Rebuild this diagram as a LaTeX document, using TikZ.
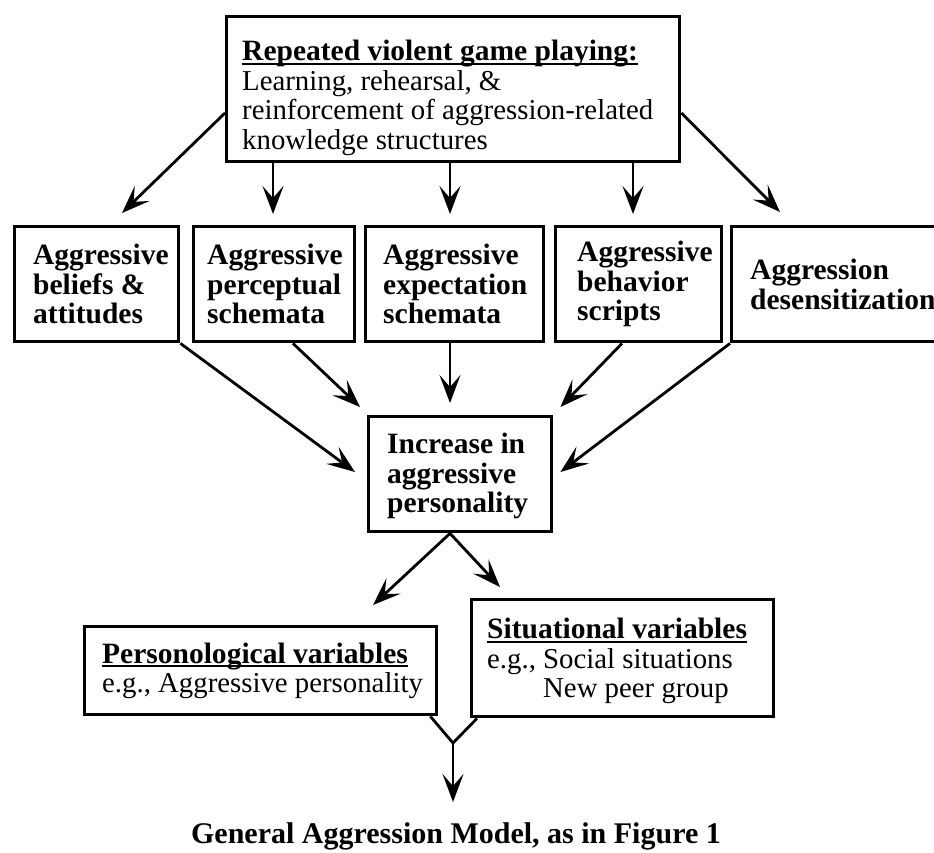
\documentclass[tikz,border=0pt]{standalone}
\usepackage{fontspec}
\setmainfont{Liberation Serif}
\usetikzlibrary{arrows.meta,calc}
\newsavebox\myulbox
\newcommand\myul[1]{\sbox\myulbox{#1}\rlap{\rule[-4pt]{\wd\myulbox}{1.8pt}}\usebox\myulbox}
\begin{document}
\begin{tikzpicture}[x=1pt,y=-1pt,
  box/.style={draw, line width=3.4pt, inner sep=0pt, anchor=north west},
  txt/.style={anchor=west, inner sep=0pt, align=left, font=\fontsize{28.8}{29.5}\selectfont},
  btxt/.style={txt, font=\fontsize{29.5}{29.5}\selectfont\bfseries},
  hd/.style={font=\fontsize{29.5}{29.5}\selectfont\bfseries},
  arr/.style={line width=2.8pt, -{Stealth[length=28pt,width=21pt,inset=12pt]}},
  ln/.style={line width=2.8pt}]
\fill[white] (0,0) rectangle (934,852);
\clip (0,0) rectangle (934,852);
% top box
\node[box, minimum width=453pt, minimum height=145pt] (top) at (225,15) {};
\node[txt] (toptxt) at (242,98) {{\fontsize{29.5}{29.5}\selectfont\bfseries\myul{Repeated violent game playing:}}\\Learning, rehearsal, \&\\reinforcement of aggression-related\\knowledge structures};
% row boxes
\node[box, minimum width=164pt, minimum height=115pt] (b1) at (13,225) {};
\node[box, minimum width=161pt, minimum height=115pt] (b2) at (192,225) {};
\node[box, minimum width=178pt, minimum height=115pt] (b3) at (364,225) {};
\node[box, minimum width=166pt, minimum height=115pt] (b4) at (554,225) {};
\node[box, minimum width=230pt, minimum height=115pt] (b5) at (730,225) {};
\node[btxt] (t1) at ([xshift=20pt]b1.west) {Aggressive\\beliefs \&\\attitudes};
\node[btxt] (t2) at ([xshift=15pt]b2.west) {Aggressive\\perceptual\\schemata};
\node[btxt] (t3) at ([xshift=19pt]b3.west) {Aggressive\\expectation\\schemata};
\node[btxt] (t4) at ([xshift=23pt]b4.west) {Aggressive\\behavior\\scripts};
\node[btxt] (t5) at ([xshift=20pt]b5.west) {Aggression\\desensitization};
% increase box
\node[box, minimum width=183pt, minimum height=115pt] (inc) at (367,415) {};
\node[btxt] (tinc) at ([xshift=20pt,yshift=-2pt]inc.west) {Increase in\\aggressive\\personality};
% bottom boxes
\node[box, minimum width=352pt, minimum height=88pt] (pers) at (83,625) {};
\node[txt] (tpers) at ([xshift=19pt]pers.west) {{\fontsize{29.5}{29.5}\selectfont\bfseries\myul{Personological variables}}\\e.g., Aggressive personality};
\node[box, minimum width=302pt, minimum height=117pt] (sit) at (470,598) {};
\node[txt] (tsit) at ([xshift=17pt,yshift=-3pt]sit.west) {{\fontsize{29.5}{29.5}\selectfont\bfseries\myul{Situational variables}}\\e.g., Social situations\\\phantom{e.g., }New peer group};
% caption
\node[anchor=base, inner sep=0pt, font=\fontsize{30}{30}\selectfont\bfseries] (cap) at (456,843) {General Aggression Model, as in Figure 1};
\coordinate (m) at (453,743);
\coordinate (mtip) at (453,802);
% arrows top -> row
\draw[arr] ($(top.north west)+(0,98)$) -- ($(b1.north west)+(109,-12)$);
\draw[arr] ($(top.south west)+(48,0)$) -- ($(b2.north west)+(81,-11)$);
\draw[arr] ($(top.south west)+(225,0)$) -- ($(b3.north west)+(86,-11)$);
\draw[arr] ($(top.south west)+(408,0)$) -- ($(b4.north west)+(79,-11)$);
\draw[arr] ($(top.north east)+(0,98)$) -- ($(b5.north west)+(50,-13)$);
% row -> increase
\draw[arr] (b1.south east) -- ($(inc.north west)+(-12,57)$);
\draw[arr] ($(b2.south west)+(101,0)$) -- ($(inc.north west)+(-7,-8)$);
\draw[arr] ($(b3.south west)+(86,0)$) -- ($(inc.north west)+(83,-12)$);
\draw[arr] ($(b4.south west)+(68,0)$) -- ($(inc.north east)+(7,-8)$);
\draw[arr] (b5.south west) -- ($(inc.north east)+(7,57)$);
% increase -> variables
\draw[arr] ($(inc.south west)+(83,0)$) -- ($(pers.north west)+(290,-20)$);
\draw[arr] ($(inc.south west)+(83,0)$) -- ($(sit.north west)+(30,-11)$);
% merge
\draw[ln, line join=miter] ($(pers.south east)+(-8,0)$) -- (m) -- ($(sit.south west)+(7,0)$);
\draw[arr] (m) -- (mtip);
\end{tikzpicture}
\end{document}
